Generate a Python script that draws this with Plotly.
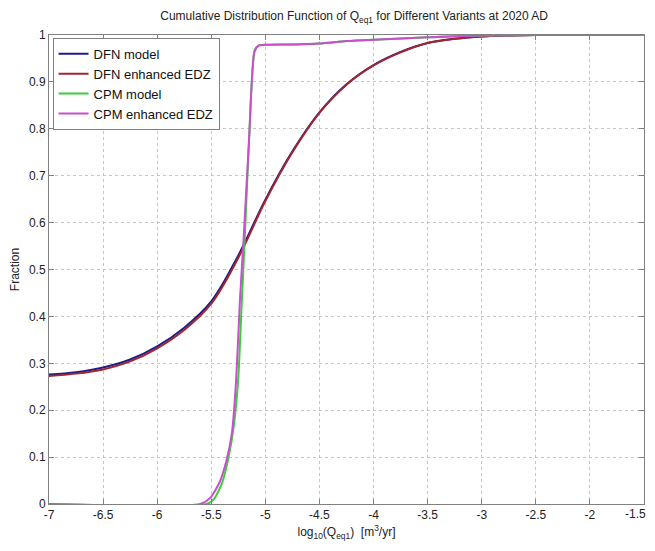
import plotly.graph_objects as go

# DFN model
dfn_x = [-7.0, -6.75, -6.5, -6.25, -6.0, -5.75, -5.5, -5.25, -5.0, -4.75, -4.5,
         -4.25, -4.0, -3.75, -3.5, -3.25, -3.0, -2.75, -2.5, -2.0, -1.5]
dfn_y = [0.276, 0.281, 0.291, 0.308, 0.336, 0.376, 0.432, 0.530, 0.649, 0.752, 0.835,
         0.895, 0.936, 0.964, 0.983, 0.992, 0.997, 0.999, 1.0, 1.0, 1.0]
# DFN enhanced EDZ
dfne_x = [-7.0, -6.75, -6.5, -6.25, -6.0, -5.75, -5.5, -5.25, -5.0, -4.75, -4.5,
          -4.25, -4.0, -3.75, -3.5, -3.25, -3.0, -2.75, -2.5, -2.0, -1.5]
dfne_y = [0.273, 0.278, 0.287, 0.304, 0.332, 0.371, 0.427, 0.525, 0.646, 0.750, 0.834,
          0.894, 0.935, 0.963, 0.983, 0.992, 0.997, 0.999, 1.0, 1.0, 1.0]
# CPM model
cpm_x = [-7.0, -5.54, -5.47, -5.40, -5.34, -5.29, -5.25, -5.22, -5.19, -5.15, -5.10, -5.06,
         -5.0, -4.75, -4.5, -4.25, -4.0, -3.5, -3.0, -2.0, -1.5]
cpm_y = [0.0, 0.0, 0.012, 0.045, 0.10, 0.17, 0.27, 0.42, 0.57, 0.78, 0.965, 0.978,
         0.979, 0.980, 0.982, 0.987, 0.990, 0.995, 0.999, 1.0, 1.0]
# CPM enhanced EDZ
cpme_x = [-7.0, -5.60, -5.51, -5.42, -5.36, -5.31, -5.27, -5.235, -5.2, -5.15, -5.10, -5.06,
          -5.0, -4.75, -4.5, -4.25, -4.0, -3.5, -3.0, -2.0, -1.5]
cpme_y = [0.0, 0.0, 0.013, 0.048, 0.092, 0.15, 0.265, 0.435, 0.57, 0.78, 0.966, 0.978,
          0.979, 0.980, 0.982, 0.987, 0.990, 0.995, 0.999, 1.0, 1.0]

x_ticks = [-7, -6.5, -6, -5.5, -5, -4.5, -4, -3.5, -3, -2.5, -2, -1.5]
x_tick_labels = ["-7", "-6.5", "-6", "-5.5", "-5", "-4.5", "-4", "-3.5", "-3", "-2.5", "-2", "-1.5"]
y_ticks = [0, 0.1, 0.2, 0.3, 0.4, 0.5, 0.6, 0.7, 0.8, 0.9, 1]
y_tick_labels = ["0", "0.1", "0.2", "0.3", "0.4", "0.5", "0.6", "0.7", "0.8", "0.9", "1"]

series = [
    ("DFN model", dfn_x, dfn_y, "#1c1c8a", 1.0),
    ("DFN enhanced EDZ", dfne_x, dfne_y, "#a3262e", 1.0),
    ("CPM model", cpm_x, cpm_y, "#3ccc3c", 0.6),
    ("CPM enhanced EDZ", cpme_x, cpme_y, "#c94fcf", 0.6),
]

fig = go.Figure()
for name, xs, ys, col, sm in series:
    fig.add_trace(go.Scatter(x=xs, y=ys, mode="lines", name=name,
                             line=dict(color=col, width=2, shape="spline", smoothing=sm)))

font = "Liberation Sans, Arial, sans-serif"
tickfont = dict(family=font, size=12, color="#222")
axis_common = dict(showline=True, linecolor="#808080", linewidth=1, mirror="allticks",
                   ticks="inside", ticklen=5, tickcolor="#808080",
                   showgrid=True, gridcolor="#c4c4c4", griddash="dot", gridwidth=1,
                   zeroline=False, automargin=False, tickfont=tickfont)

# last x tick label sits at the very right edge; draw it as an annotation so it is not clipped
last_label = x_tick_labels[-1]
shown_x_labels = x_tick_labels[:-1] + [""]

# page body has an 8px margin, so the figure is sized/placed to compensate
fig.update_layout(
    width=647, height=543,
    margin=dict(l=41, r=11, t=27, b=47),
    paper_bgcolor="white", plot_bgcolor="white",
    title=dict(text="Cumulative Distribution Function of Q<sub>eq1</sub> for Different Variants at 2020 AD",
               x=0.535, xanchor="center", y=0.985, yanchor="middle",
               font=dict(family=font, size=12, color="#222")),
    xaxis=dict(range=[-7, -1.5], tickvals=x_ticks, ticktext=shown_x_labels,
               title=dict(text="log<sub>10</sub>(Q<sub>eq1</sub>)  [m<sup>3</sup>/yr]",
                          font=dict(family=font, size=12, color="#222"), standoff=6),
               **axis_common),
    yaxis=dict(range=[0, 1], tickvals=y_ticks, ticktext=y_tick_labels,
               title=dict(text="Fraction", font=dict(family=font, size=12, color="#222"), standoff=6),
               **axis_common),
    legend=dict(x=0.006, y=0.994, xanchor="left", yanchor="top",
                bgcolor="white", bordercolor="#808080", borderwidth=1,
                font=dict(family=font, size=13, color="#111"),
                tracegroupgap=0, itemwidth=30),
    showlegend=True,
)
fig.add_annotation(x=x_ticks[-1], xref="x", y=0, yref="paper", text=last_label,
                   showarrow=False, xanchor="right", yanchor="top", xshift=4, yshift=-1,
                   font=tickfont)

fig.write_html("out.html")
